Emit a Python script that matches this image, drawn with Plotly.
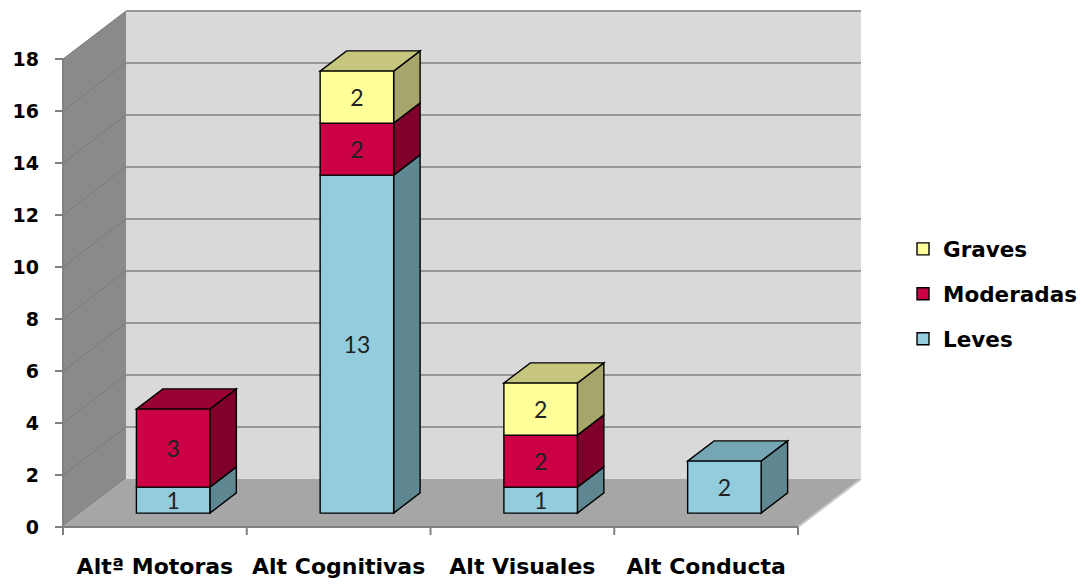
import plotly.graph_objects as go

# ---- data ---------------------------------------------------------------
categories = ["Altª Motoras", "Alt Cognitivas", "Alt Visuales", "Alt Conducta"]
series_names = ["Leves", "Moderadas", "Graves"]
leves = [1, 13, 1, 2]
moderadas = [3, 2, 2, 0]
graves = [0, 2, 2, 0]
y_tick_values = [0, 2, 4, 6, 8, 10, 12, 14, 16, 18]

# ---- styling ------------------------------------------------------------
front_colors = {"Leves": "#93CDDD", "Moderadas": "#CC0044", "Graves": "#FFFF99"}
side_colors = {"Leves": "#5E8791", "Moderadas": "#80002C", "Graves": "#A6A66A"}
top_colors = {"Leves": "#74A6B3", "Moderadas": "#990035", "Graves": "#C6C67E"}
legend_rank = {"Graves": 1, "Moderadas": 2, "Leves": 3}

WALL_BACK = "#D9D9D9"
WALL_SIDE = "#8A8A8A"
FLOOR = "#A6A6A6"
GRID = "#979797"
AXIS = "#808080"

# pixel scale of one category / one value unit, and the oblique depth vector
CAT_PX = 183.75
VAL_PX = 26.0
DEPTH_X_PX, DEPTH_Y_PX = 63.0, 48.0
DX = DEPTH_X_PX / CAT_PX
DY = DEPTH_Y_PX / VAL_PX
BAR_LEFT, BAR_RIGHT = 0.30, 0.70       # bar extent inside a category slot
D_FRONT, D_BACK = 0.29, 0.71           # bar extent along the depth axis
Y_TOP = y_tick_values[-1]
N = len(categories)

W, H = 1084, 585
ML, MB = 48, 40
ORIGIN_X, ORIGIN_Y = 63, 527           # pixel position of (0, 0) on the front plane


def P(c, v, d):
    """Oblique projection: category c, value v, depth d -> data coordinates."""
    return (c + d * DX, v + d * DY)


def poly(points):
    return "M " + " L ".join(f"{x:.5f},{y:.5f}" for x, y in points) + " Z"


def seg(p0, p1, color, width):
    return dict(type="line", xref="x", yref="y", x0=p0[0], y0=p0[1],
                x1=p1[0], y1=p1[1], line=dict(color=color, width=width),
                layer="below")


def face(points, fill):
    return dict(type="path", xref="x", yref="y", path=poly(points),
                fillcolor=fill, line=dict(color="black", width=1.4),
                layer="below")


shapes = []
# back wall, side wall, floor
shapes.append(dict(type="path", xref="x", yref="y", layer="below",
                   path=poly([P(0, 0, 1), P(0, Y_TOP, 1), P(N, Y_TOP, 1), P(N, 0, 1)]),
                   fillcolor=WALL_BACK, line=dict(width=0)))
shapes.append(dict(type="path", xref="x", yref="y", layer="below",
                   path=poly([P(0, 0, 0), P(0, Y_TOP, 0), P(0, Y_TOP, 1), P(0, 0, 1)]),
                   fillcolor=WALL_SIDE, line=dict(width=0)))
shapes.append(dict(type="path", xref="x", yref="y", layer="below",
                   path=poly([P(0, 0, 0), P(0, 0, 1), P(N, 0, 1), P(N, 0, 0)]),
                   fillcolor=FLOOR, line=dict(width=0)))

# gridlines on the back wall and the side wall
for v in y_tick_values[1:]:
    shapes.append(seg(P(0, v, 1), P(N, v, 1), GRID, 2))
    shapes.append(seg(P(0, v, 0), P(0, v, 1), "#7C7C7C", 1))
# light right edge of the floor
shapes.append(seg(P(N, 0, 0), P(N, 0, 1), "#C8C8C8", 2))

# axis lines and tick marks
shapes.append(seg(P(0, 0, 0), P(0, Y_TOP, 0), AXIS, 2))
shapes.append(seg(P(0, 0, 0), P(N, 0, 0), AXIS, 2))
for v in y_tick_values:
    shapes.append(seg((-8 / CAT_PX, v), (0, v), AXIS, 2))
for c in range(N + 1):
    shapes.append(seg((c, 0), (c, -8 / VAL_PX), AXIS, 2))

# side and top faces of the stacked boxes
stack = {"Leves": leves, "Moderadas": moderadas, "Graves": graves}
totals = [sum(stack[s][i] for s in series_names) for i in range(N)]
bases = {}
running = [0] * N
for s in series_names:
    bases[s] = list(running)
    running = [running[i] + stack[s][i] for i in range(N)]

for i in range(N):
    c0, c1 = i + BAR_LEFT, i + BAR_RIGHT
    for s in series_names:
        val = stack[s][i]
        if val <= 0:
            continue
        v0 = bases[s][i]
        v1 = v0 + val
        shapes.append(face([P(c1, v0, D_FRONT), P(c1, v0, D_BACK),
                            P(c1, v1, D_BACK), P(c1, v1, D_FRONT)], side_colors[s]))
        if v1 == totals[i]:
            shapes.append(face([P(c0, v1, D_FRONT), P(c0, v1, D_BACK),
                                P(c1, v1, D_BACK), P(c1, v1, D_FRONT)], top_colors[s]))

# front faces as bar traces placed on the front plane of the boxes
fig = go.Figure()
for s in series_names:
    xs, ys, bs, txt = [], [], [], []
    for i in range(N):
        val = stack[s][i]
        cx, by = P(i + (BAR_LEFT + BAR_RIGHT) / 2, bases[s][i], D_FRONT)
        xs.append(cx)
        bs.append(by)
        ys.append(val if val > 0 else None)
        txt.append(str(val) if val > 0 else "")
    fig.add_trace(go.Bar(
        name=s, x=xs, y=ys, base=bs, width=BAR_RIGHT - BAR_LEFT,
        marker=dict(color=front_colors[s], line=dict(color="black", width=1.4)),
        text=txt, textposition="inside", insidetextanchor="middle",
        constraintext="none", textangle=0,
        textfont=dict(family="Lato", size=23, color="#222222"),
        legendgroup=s, legendrank=legend_rank[s], hoverinfo="skip",
    ))

plot_w = W - ML
plot_h = H - MB
x_lo = -(ORIGIN_X - ML) / CAT_PX
x_hi = x_lo + plot_w / CAT_PX
y_lo = -(H - MB - ORIGIN_Y) / VAL_PX
y_hi = y_lo + plot_h / VAL_PX

fig.update_layout(
    width=W, height=H, autosize=False,
    margin=dict(l=ML, r=0, t=0, b=MB, pad=0, autoexpand=False),
    paper_bgcolor="white", plot_bgcolor="white",
    barmode="overlay", shapes=shapes,
    showlegend=True,
    legend=dict(x=0.8253, y=0.581, xanchor="left", yanchor="top",
                traceorder="grouped", tracegroupgap=14,
                font=dict(family="DejaVu Sans", size=21.5, color="black", weight="bold"),
                bgcolor="rgba(0,0,0,0)"),
    xaxis=dict(range=[x_lo, x_hi], showgrid=False, zeroline=False, showline=False,
               tickmode="array", tickvals=[i + 0.5 for i in range(N)], ticktext=categories,
               ticks="", ticklabelstandoff=6,
               tickfont=dict(family="DejaVu Sans", size=22, color="black", weight="bold"),
               fixedrange=True),
    yaxis=dict(range=[y_lo, y_hi], showgrid=False, zeroline=False, showline=False,
               tickmode="array", tickvals=y_tick_values,
               ticks="", ticklabelstandoff=8,
               tickfont=dict(family="DejaVu Sans", size=19, color="black", weight="bold"),
               fixedrange=True),
)

fig.write_html("out.html")
